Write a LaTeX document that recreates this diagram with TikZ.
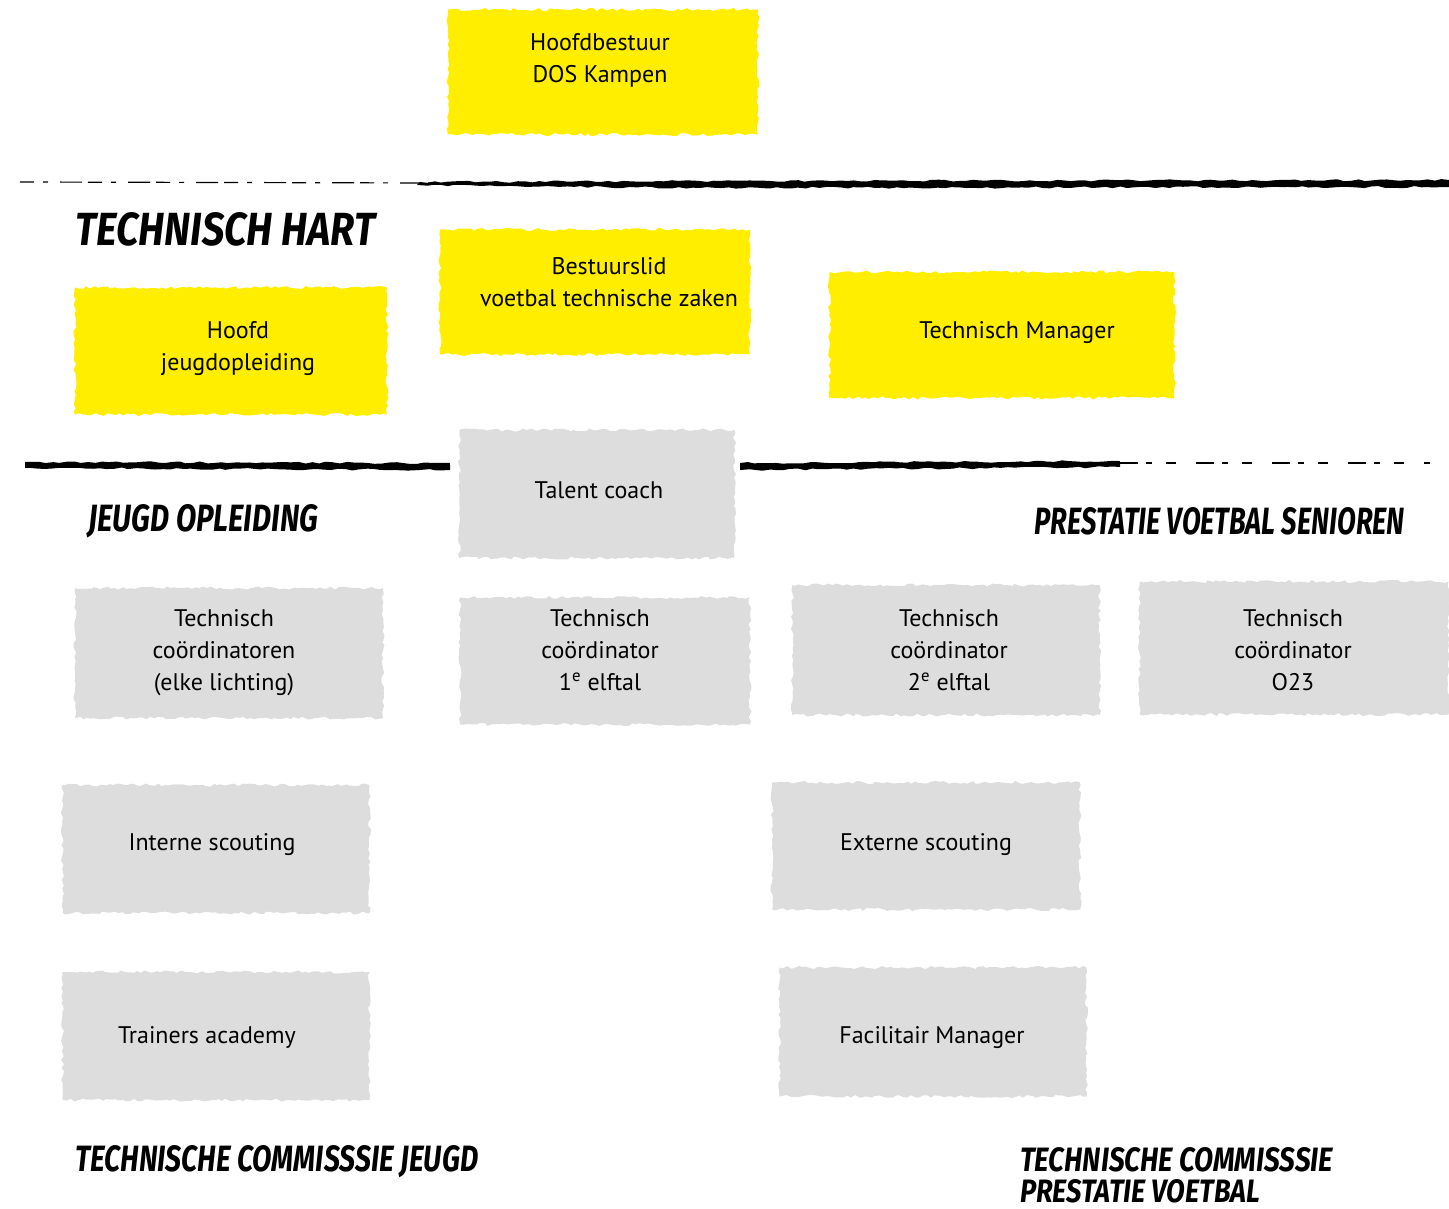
\documentclass[tikz,border=0pt]{standalone}
\usepackage{fontspec}
\usepackage{graphicx}
\setmainfont{PT Sans}
\newfontfamily\brushfont{Fira Sans}
\usetikzlibrary{decorations.pathmorphing}
\definecolor{dosyellow}{RGB}{255,238,0}
\definecolor{dosgrey}{RGB}{221,221,221}
\def\brush#1#2#3{\resizebox{#2}{#3}{\brushfont\bfseries\itshape #1}}
\def\lift#1#2#3{\hspace*{#1}\raisebox{#2}[\height][\depth]{\begin{tabular}{@{}c@{}}#3\end{tabular}}\hspace*{-#1}}
\tikzset{
	brushbox/.style={inner sep=0pt, align=center, font=\fontsize{24}{32}\selectfont,
		decorate, decoration={random steps, segment length=4pt, amplitude=1.5pt}},
	yellowbox/.style={brushbox, fill=dosyellow},
	greybox/.style={brushbox, fill=dosgrey},
	heading/.style={inner sep=0pt, anchor=west},
	stroke/.style={decorate, decoration={random steps, segment length=7pt, amplitude=1pt}},
}

\begin{document}
\begin{tikzpicture}[x=1pt, y=-1pt]
		%%%%% START %%%%%
		\pgfmathsetseed{7}
		\useasboundingbox (0, 0) rectangle (1449, 1209);
		
		% bestuur
		\node[yellowbox, minimum width=310, minimum height=125] (hoofdbestuur) at (603, 72) {\lift{-3pt}{12pt}{Hoofdbestuur\\DOS Kampen}};
		
		% scheidingslijn boven
		\draw[line width=1.2pt, dash pattern=on 14pt off 9pt on 5pt off 12pt on 22pt off 6pt] (20, 182) -- (430, 183);
		\fill[stroke] (420, 182) -- (700, 181) -- (1449, 180) -- (1449, 187) -- (700, 188) -- (420, 185) -- cycle;
		
		% technisch hart
		\node[heading] (hart) at (75, 229) {\brush{TECHNISCH HART}{300pt}{33pt}};
		\node[yellowbox, minimum width=310, minimum height=125] (bestuurslid) at (595, 292) {\lift{14pt}{8pt}{Bestuurslid\\voetbal technische zaken}};
		\node[yellowbox, minimum width=312, minimum height=127] (hoofdjeugd) at (231, 351) {\lift{7pt}{3pt}{Hoofd\\jeugdopleiding}};
		\node[yellowbox, minimum width=345, minimum height=126] (techmanager) at (1002, 335) {\lift{15pt}{3pt}{Technisch Manager}};
		
		% scheidingslijn midden
		\fill[stroke] (25, 462) -- (450, 463) -- (450, 470) -- (25, 468) -- cycle;
		\fill[stroke] (740, 463) -- (1120, 461) -- (1120, 467) -- (740, 470) -- cycle;
		\draw[line width=1.2pt, dash pattern=on 18pt off 8pt on 6pt off 14pt on 10pt off 20pt] (1120, 463) -- (1430, 463);
		\node[greybox, minimum width=275, minimum height=128] (talentcoach) at (597, 494) {\lift{2pt}{2pt}{Talent coach}};
		
		% jeugd / senioren
		\node[heading] (jeugd) at (88, 521) {\brush{JEUGD OPLEIDING}{230pt}{27pt}};
		\node[heading, anchor=east] (senioren) at (1405, 521) {\brush{PRESTATIE VOETBAL SENIOREN}{370pt}{27pt}};
		
		\node[greybox, minimum width=308, minimum height=130] (tcjeugd) at (229, 653) {\lift{-5pt}{1pt}{Technisch\\coördinatoren\\(elke lichting)}};
		\node[greybox, minimum width=290, minimum height=127] (tceerste) at (605, 661) {\lift{-5pt}{9pt}{Technisch\\coördinator\\1\textsuperscript{e} elftal}};
		\node[greybox, minimum width=307, minimum height=130] (tctweede) at (946, 650) {\lift{3pt}{-2pt}{Technisch\\coördinator\\2\textsuperscript{e} elftal}};
		\node[greybox, minimum width=309, minimum height=133] (tconder) at (1294, 648) {\lift{-1pt}{-4pt}{Technisch\\coördinator\\O23}};
		
		\node[greybox, minimum width=307, minimum height=128] (interne) at (216, 849) {\lift{-4pt}{5pt}{Interne scouting}};
		\node[greybox, minimum width=308, minimum height=127] (externe) at (926, 846) {\lift{0pt}{2pt}{Externe scouting}};
		\node[greybox, minimum width=307, minimum height=128] (trainers) at (216, 1036) {\lift{-9pt}{-1pt}{Trainers academy}};
		\node[greybox, minimum width=307, minimum height=129] (facilitair) at (933, 1032) {\lift{-1pt}{-5pt}{Facilitair Manager}};
		
		% commissies
		\node[heading] (comjeugd) at (75, 1162) {\brush{TECHNISCHE COMMISSSIE JEUGD}{403pt}{26pt}};
		\node[heading] (comprestatie) at (1020, 1160) {\brush{TECHNISCHE COMMISSSIE}{313pt}{24pt}};
		\node[heading] (comvoetbal) at (1020, 1191) {\brush{PRESTATIE VOETBAL}{240pt}{23pt}};
		
		%%%%% END %%%%%
	\end{tikzpicture}
\end{document}
